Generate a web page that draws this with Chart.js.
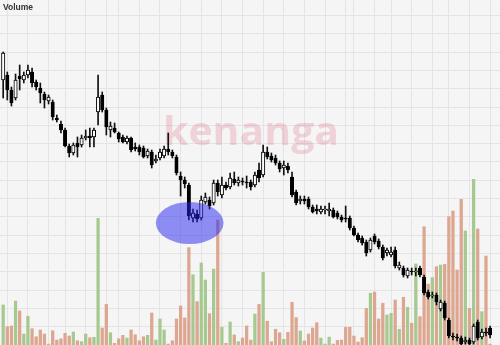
<!DOCTYPE html>
<html>
<head>
<meta charset="utf-8">
<title>Volume</title>
<script src="https://cdn.jsdelivr.net/npm/chart.js@4.4.1/dist/chart.umd.min.js"></script>
<style>
  body { margin: 0; background: #f5f5f5; }
  canvas { display: block; background: #f5f5f5; }
</style>
</head>
<body>
<canvas id="myChart" width="500" height="345"></canvas>
<script>
'use strict';
//--------------------DATA

// daily prices (sen), one entry per trading day
let openPrices = [
  320, 325, 310, 302, 324, 320, 325, 328, 318, 312,
  306, 299, 298, 282, 276, 270, 254, 247, 257, 255,
  262, 264, 263, 288, 305, 290, 270, 272, 267, 263,
  258, 262, 253, 253, 252, 244, 248, 239, 242, 244,
  251, 248, 243, 224, 220, 215, 182, 186, 182, 198,
  200, 197, 217, 205, 215, 213, 221, 217, 219, 218,
  218, 215, 230, 225, 248, 244, 242, 237, 232, 234,
  223, 208, 199, 201, 201, 193, 191, 188, 190, 189,
  190, 187, 183, 182, 182, 172, 165, 162, 158, 150,
  164, 159, 153, 147, 145, 150, 132, 132, 124, 129,
  128, 132, 123, 108, 104, 105, 91, 97, 80, 64,
  63, 62, 58, 60, 58, 78, 63, 68, 72
];
let highPrices = [
  348, 328, 313, 326, 335, 328, 335, 332, 320, 317,
  308, 305, 300, 285, 279, 272, 256, 257, 263, 265,
  270, 272, 272, 325, 308, 292, 278, 277, 268, 265,
  264, 263, 257, 255, 254, 251, 250, 245, 251, 254,
  267, 250, 245, 228, 223, 217, 191, 190, 204, 207,
  203, 220, 220, 223, 218, 227, 228, 223, 222, 224,
  220, 228, 237, 255, 253, 247, 245, 239, 239, 237,
  228, 210, 204, 204, 203, 195, 195, 194, 194, 197,
  192, 189, 185, 194, 184, 174, 167, 164, 160, 162,
  166, 161, 155, 152, 153, 153, 138, 134, 132, 132,
  132, 134, 125, 110, 108, 107, 100, 99, 82, 67,
  66, 64, 63, 62, 76, 80, 71, 72, 74
];
let lowPrices = [
  302, 300, 294, 300, 310, 317, 322, 313, 310, 297,
  292, 296, 280, 278, 267, 253, 243, 245, 243, 253,
  260, 253, 253, 275, 288, 265, 263, 267, 258, 257,
  256, 248, 249, 245, 242, 242, 232, 237, 240, 242,
  245, 242, 225, 204, 212, 180, 178, 178, 180, 196,
  191, 195, 204, 202, 210, 211, 215, 214, 215, 212,
  210, 213, 218, 223, 241, 238, 235, 228, 225, 227,
  203, 195, 196, 196, 191, 187, 186, 186, 186, 184,
  182, 181, 178, 178, 170, 164, 158, 155, 144, 148,
  156, 151, 140, 144, 143, 132, 130, 123, 122, 125,
  124, 123, 105, 101, 102, 95, 89, 80, 62, 60,
  59, 54, 56, 54, 56, 60, 61, 64, 62
];
let closePrices = [
  347, 310, 297, 320, 321, 325, 330, 317, 313, 307,
  300, 303, 283, 280, 270, 254, 247, 255, 253, 262,
  264, 262, 270, 303, 290, 273, 274, 268, 261, 258,
  262, 250, 251, 248, 243, 249, 235, 241, 248, 251,
  248, 244, 227, 220, 216, 184, 187, 181, 200, 203,
  194, 217, 208, 215, 212, 222, 217, 220, 218, 217,
  213, 225, 222, 248, 243, 240, 237, 231, 235, 230,
  205, 197, 201, 199, 193, 188, 189, 191, 190, 191,
  183, 183, 180, 181, 172, 165, 160, 157, 147, 160,
  158, 153, 142, 150, 148, 134, 135, 125, 130, 128,
  129, 125, 107, 103, 105, 98, 98, 82, 64, 63,
  62, 56, 60, 56, 74, 62, 68, 67, 65
];

// traded volume ('000 lots)
let volumes = [
  219, 100, 104, 240, 186, 60, 157, 89, 45, 82,
  60, 5, 78, 27, 34, 64, 49, 71, 23, 18,
  60, 40, 42, 692, 93, 222, 67, 9, 34, 53,
  38, 82, 56, 23, 45, 53, 175, 27, 142, 82,
  5, 23, 142, 213, 148, 532, 384, 237, 448, 355,
  171, 415, 683, 97, 9, 126, 55, 18, 38, 104,
  27, 169, 222, 397, 130, 18, 86, 67, 31, 69,
  233, 150, 77, 22, 60, 93, 122, 38, 5, 43,
  5, 25, 27, 97, 97, 49, 16, 40, 200, 283,
  289, 142, 228, 164, 173, 246, 86, 261, 206, 119,
  443, 155, 646, 333, 368, 428, 437, 441, 701, 732,
  410, 796, 623, 200, 905, 634, 182, 486, 5
];

// first trading day of each week (index into the arrays above)
let weekStarts = [1, 6, 11, 15, 20, 25, 28, 33, 38, 43, 48, 53, 58, 63, 68, 73, 78, 83, 85, 90, 94, 99, 104, 108, 113, 118];

// circled area: centre (day, price) and half sizes (days, sen)
let highlight = { day: 45.2, price: 177, halfDays: 8.2, halfPrice: 21 };

//--------------------FUNCTIONS

function isUp(i) {
  return closePrices[i] >= openPrices[i];
}

// watermark, circle and the small axis title
const chartDecor = {
  id: 'chartDecor',
  beforeDatasetsDraw(chart) {
    const ctx = chart.ctx;
    const area = chart.chartArea;
    ctx.save();
    ctx.font = 'bold 40px "Open Sans"';
    let w = ctx.measureText('kenanga').width;
    ctx.translate(area.left + area.width * 0.502, area.top + area.height * 0.42);
    ctx.scale(176 / w, 1);
    ctx.textAlign = 'center';
    ctx.fillStyle = 'rgba(215, 70, 95, 0.2)';
    ctx.fillText('kenanga', 0, 0);
    ctx.restore();
  },
  afterDatasetsDraw(chart) {
    const ctx = chart.ctx;
    const xs = chart.scales.x;
    const ps = chart.scales.price;
    let cx = xs.getPixelForValue(highlight.day);
    let cy = ps.getPixelForValue(highlight.price);
    let rx = Math.abs(xs.getPixelForValue(highlight.day + highlight.halfDays) - cx);
    let ry = Math.abs(ps.getPixelForValue(highlight.price + highlight.halfPrice) - cy);
    ctx.save();
    ctx.beginPath();
    ctx.ellipse(cx, cy, rx, ry, 0, 0, Math.PI * 2);
    ctx.fillStyle = 'rgba(35, 35, 240, 0.5)';
    ctx.fill();
    ctx.restore();
  },
  afterDraw(chart) {
    const ctx = chart.ctx;
    ctx.save();
    ctx.font = 'bold 8.5px "Liberation Sans", Arial';
    ctx.fillStyle = '#333';
    ctx.textBaseline = 'alphabetic';
    ctx.fillText('Volume', 3, 9.5);
    ctx.restore();
  }
};

function drawChart() {
  const days = volumes.map((v, i) => i);

  const volumeData = days.map(i => ({ x: i, y: volumes[i] }));
  const wickData = days.map(i => ({ x: i, y: [lowPrices[i], highPrices[i]] }));
  const bodyData = days.map(i => ({ x: i, y: [openPrices[i], closePrices[i]] }));

  const data = {
    datasets: [
      {
        label: 'Body',
        data: bodyData,
        yAxisID: 'price',
        backgroundColor: days.map(i => (isUp(i) ? '#ffffff' : '#000000')),
        borderColor: '#000000',
        borderWidth: 1,
        borderSkipped: false,
        barThickness: 3.4,
        minBarLength: 1,
        grouped: false,
        order: 1,
      },
      {
        label: 'Wick',
        data: wickData,
        yAxisID: 'price',
        backgroundColor: '#111111',
        barThickness: 1,
        grouped: false,
        order: 2,
      },
      {
        label: 'Volume',
        data: volumeData,
        yAxisID: 'vol',
        backgroundColor: days.map(i => (isUp(i) ? '#a6c990' : '#dca690')),
        barThickness: 2.6,
        grouped: false,
        order: 3,
      },
    ],
  };

  const config = {
    type: 'bar',
    data: data,
    options: {
      responsive: false,
      animation: false,
      devicePixelRatio: 1,
      layout: { padding: 0 },
      plugins: {
        legend: { display: false },
        tooltip: { enabled: false },
      },
      scales: {
        x: {
          type: 'linear',
          min: -0.77,
          max: 120.4,
          offset: false,
          grid: { color: '#e4e4e4', drawTicks: false, offset: false },
          border: { display: false },
          ticks: { display: false },
          afterBuildTicks: scale => {
            scale.ticks = weekStarts.map(v => ({ value: v }));
          },
        },
        vol: {
          axis: 'y',
          position: 'left',
          min: 0,
          max: 1885,
          grid: { color: '#e4e4e4', drawTicks: false },
          border: { display: false },
          ticks: { display: false, stepSize: 100 },
          afterBuildTicks: scale => {
            scale.ticks = scale.ticks.filter(t => t.value > 0 && t.value % 100 === 0);
          },
        },
        price: {
          axis: 'y',
          position: 'right',
          min: 55,
          max: 400,
          display: false,
        },
      },
    },
    plugins: [chartDecor],
  };

  new Chart(document.getElementById('myChart'), config);
}

//--------------------FUNCTION CALLS

drawChart();
</script>
</body>
</html>
